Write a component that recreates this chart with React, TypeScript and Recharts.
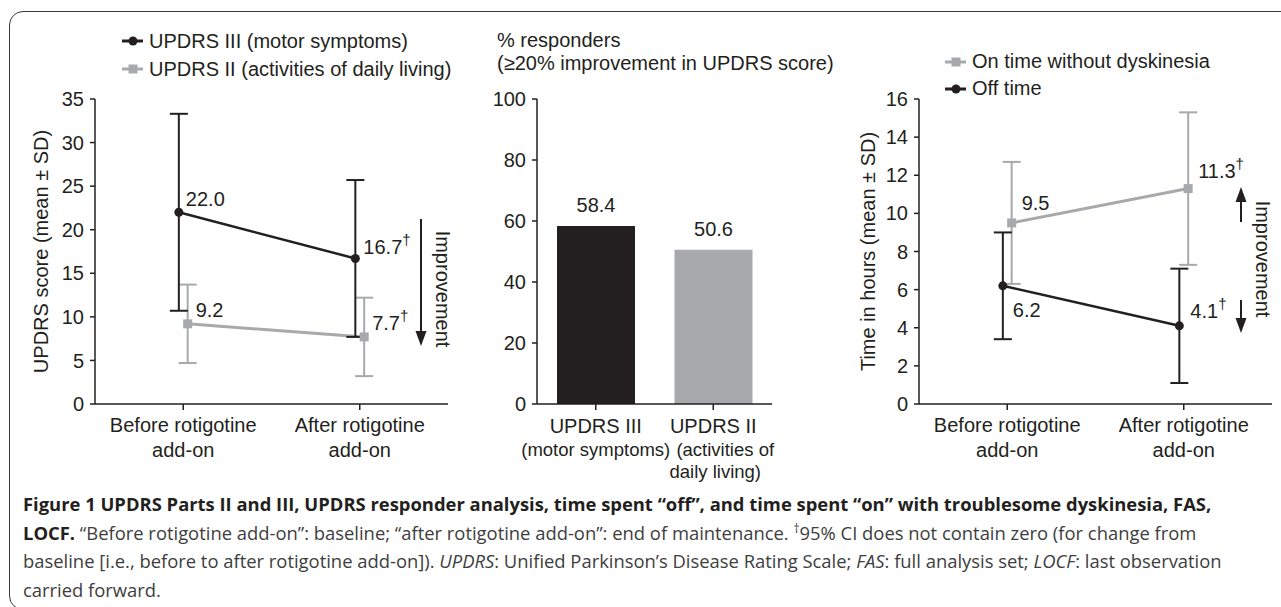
import React from 'react';
import {
  ComposedChart,
  Line,
  ErrorBar,
  XAxis,
  YAxis,
  BarChart,
  Bar,
  Cell,
  LabelList,
  Legend
} from 'recharts';

const FONT = '"Liberation Sans", Arial, Helvetica, sans-serif';
const CAPTION_FONT = '"Open Sans", "Noto Sans", sans-serif';
const INK = '#231f20';
const GREY = '#a7a9ac';

// visit categories (two-line tick labels)
const visits = [
  ['Before rotigotine', 'add-on'],
  ['After rotigotine', 'add-on']
];

// UPDRS panel
const updrsIIIMean = [22.0, 16.7];
const updrsIIISd = [11.3, 9.0];
const updrsIIMean = [9.2, 7.7];
const updrsIISd = [4.5, 4.5];
const updrsSig = [false, true];
const updrsTicks = [0, 5, 10, 15, 20, 25, 30, 35];

// responder panel
const responderGroups = [
  ['UPDRS III', '(motor symptoms)'],
  ['UPDRS II', '(activities of', 'daily living)']
];
const responderPct = [58.4, 50.6];
const pctTicks = [0, 20, 40, 60, 80, 100];

// on/off time panel
const onTimeMean = [9.5, 11.3];
const onTimeSd = [3.2, 4.0];
const offTimeMean = [6.2, 4.1];
const offTimeSd = [2.8, 3.0];
const timeSig = [false, true];
const hoursTicks = [0, 2, 4, 6, 8, 10, 12, 14, 16];

// small horizontal dodge so the two series don't overlap
const DODGE = 0.025;

const toPoints = (mean: number[], sd: number[], sig: boolean[], shift: number) =>
  mean.map((y, i) => ({ x: i + 1 + shift, y, sd: sd[i], sig: sig[i] }));

const updrsIIIPts = toPoints(updrsIIIMean, updrsIIISd, updrsSig, -DODGE);
const updrsIIPts = toPoints(updrsIIMean, updrsIISd, updrsSig, DODGE);
const offPts = toPoints(offTimeMean, offTimeSd, timeSig, -DODGE);
const onPts = toPoints(onTimeMean, onTimeSd, timeSig, DODGE);
const responderRows = responderGroups.map((g, i) => ({ group: g[0], pct: responderPct[i] }));

const CircleDot = (p: any) =>
  p.cx == null ? null : <circle key={`c${p.index}`} cx={p.cx} cy={p.cy} r={4.5} fill={INK} />;
const SquareDot = (p: any) =>
  p.cx == null ? null : (
    <rect key={`s${p.index}`} x={p.cx - 4.5} y={p.cy - 4.5} width={9} height={9} fill={GREY} />
  );

// value label placed beside a point, dagger as superscript
const pointLabel = (shifts: number[][], sig: boolean[]) => (p: any) => {
  const px = p.x ?? p.viewBox?.x;
  const py = p.y ?? p.viewBox?.y;
  const [dx, dy] = shifts[p.index];
  return (
    <text
      key={p.index}
      x={px + dx}
      y={py + dy + 7}
      fontSize={20}
      fill={INK}
      fontFamily={FONT}
    >
      {Number(p.value).toFixed(1)}
      {sig[p.index] ? (
        <tspan fontSize={15} dy={-9}>
          †
        </tspan>
      ) : null}
    </text>
  );
};

const VisitTick = (p: any) => {
  const lines = visits[Math.round(p.payload.value) - 1] || [];
  return (
    <text x={p.x} y={p.y} textAnchor="middle" fontSize={20} fill={INK} fontFamily={FONT}>
      {lines.map((t, i) => (
        <tspan key={i} x={p.x} dy={i === 0 ? 20 : 25}>
          {t}
        </tspan>
      ))}
    </text>
  );
};

// the second group's "(activities of" line sits a little right of centre
const groupLineShift = [[0, 0], [0, 12, 2]];

const GroupTick = (p: any) => {
  const lines = responderGroups[p.index] || [];
  return (
    <text x={p.x} y={p.y} textAnchor="middle" fill={INK} fontFamily={FONT}>
      {lines.map((t, i) => (
        <tspan
          key={i}
          x={p.x + (groupLineShift[p.index]?.[i] || 0)}
          dy={i === 0 ? 21 : i === 1 ? 23 : 22}
          fontSize={i === 0 ? 20 : 18.5}
        >
          {t}
        </tspan>
      ))}
    </text>
  );
};

const axisTitle = (text: string, dx: number) => (props: any) => {
  const vb = props.viewBox;
  const cx = vb.x + dx;
  const cy = vb.y + vb.height / 2;
  return (
    <text
      x={cx}
      y={cy}
      transform={`rotate(-90 ${cx} ${cy})`}
      textAnchor="middle"
      dominantBaseline="central"
      fontSize={20}
      fill={INK}
      fontFamily={FONT}
    >
      {text}
    </text>
  );
};

type LegendItem = { label: string; kind: 'circle' | 'square' };

const legendContent = (items: LegendItem[], rowHeight: number) => () => (
  <div style={{ fontFamily: FONT, fontSize: 20, color: INK, whiteSpace: 'nowrap' }}>
    {items.map((it) => (
      <div key={it.label} style={{ height: rowHeight, display: 'flex', alignItems: 'center' }}>
        <svg width={27} height={12} style={{ display: 'block' }}>
          <line
            x1={0}
            x2={21}
            y1={6}
            y2={6}
            stroke={it.kind === 'circle' ? INK : GREY}
            strokeWidth={3}
          />
          {it.kind === 'circle' ? (
            <circle cx={11} cy={6} r={4.5} fill={INK} />
          ) : (
            <rect x={6.5} y={1.5} width={9} height={9} fill={GREY} />
          )}
        </svg>
        <span>{it.label}</span>
      </div>
    ))}
  </div>
);

const axisProps = {
  axisLine: { stroke: INK, strokeWidth: 1.5 },
  tickLine: { stroke: INK, strokeWidth: 1.5 }
};

const yTick = { fontSize: 20, fill: INK, fontFamily: FONT };

function UpdrsPanel() {
  return (
    <ComposedChart
      width={460}
      height={480}
      margin={{ top: 99, right: 12, bottom: 16, left: 35 }}
    >
      <XAxis
        type="number"
        dataKey="x"
        domain={[0.5, 2.5]}
        ticks={[1, 2]}
        allowDataOverflow
        tick={VisitTick}
        tickSize={6}
        tickMargin={2}
        height={60}
        {...axisProps}
      />
      <YAxis
        type="number"
        domain={[0, 35]}
        ticks={updrsTicks}
        interval={0}
        width={60}
        tick={yTick}
        tickSize={5}
        tickMargin={6}
        label={axisTitle('UPDRS score (mean ± SD)', 6)}
        {...axisProps}
      />
      <Legend
        layout="vertical"
        align="center"
        verticalAlign="middle"
        content={legendContent(
          [
            { label: 'UPDRS III (motor symptoms)', kind: 'circle' },
            { label: 'UPDRS II (activities of daily living)', kind: 'square' }
          ],
          28
        )}
        wrapperStyle={{ left: 122, top: 27, width: 'auto' }}
      />
      <Line
        data={updrsIIPts}
        dataKey="y"
        stroke={GREY}
        strokeWidth={3}
        dot={SquareDot}
        activeDot={false}
        isAnimationActive={false}
      >
        <ErrorBar dataKey="sd" direction="y" width={9} stroke={GREY} strokeWidth={2} />
        <LabelList dataKey="y" content={pointLabel([[8, -14], [8, -14]], updrsSig)} />
      </Line>
      <Line
        data={updrsIIIPts}
        dataKey="y"
        stroke={INK}
        strokeWidth={2.5}
        dot={CircleDot}
        activeDot={false}
        isAnimationActive={false}
      >
        <ErrorBar dataKey="sd" direction="y" width={9} stroke={INK} strokeWidth={2} />
        <LabelList dataKey="y" content={pointLabel([[7, -13], [8, -11]], updrsSig)} />
      </Line>
    </ComposedChart>
  );
}

function ResponderPanel() {
  return (
    <BarChart
      width={330}
      height={495}
      data={responderRows}
      margin={{ top: 99, right: 18, bottom: 31, left: 17 }}
    >
      <XAxis
        dataKey="group"
        tick={GroupTick}
        tickSize={6}
        tickMargin={2}
        height={60}
        interval={0}
        {...axisProps}
      />
      <YAxis
        type="number"
        domain={[0, 100]}
        ticks={pctTicks}
        interval={0}
        width={60}
        tick={yTick}
        tickSize={5}
        tickMargin={6}
        {...axisProps}
      />
      <Bar dataKey="pct" barSize={78} isAnimationActive={false}>
        {responderRows.map((r, i) => (
          <Cell key={r.group} fill={i === 0 ? INK : GREY} />
        ))}
        <LabelList
          dataKey="pct"
          position="top"
          offset={14}
          formatter={(v: any) => Number(v).toFixed(1)}
          style={{ fontSize: 20, fill: INK, fontFamily: FONT }}
        />
      </Bar>
    </BarChart>
  );
}

function TimePanel() {
  return (
    <ComposedChart
      width={441}
      height={480}
      margin={{ top: 99, right: 9, bottom: 16, left: 19 }}
    >
      <XAxis
        type="number"
        dataKey="x"
        domain={[0.5, 2.5]}
        ticks={[1, 2]}
        allowDataOverflow
        tick={VisitTick}
        tickSize={6}
        tickMargin={2}
        height={60}
        {...axisProps}
      />
      <YAxis
        type="number"
        domain={[0, 16]}
        ticks={hoursTicks}
        interval={0}
        width={60}
        tick={yTick}
        tickSize={5}
        tickMargin={6}
        label={axisTitle('Time in hours (mean ± SD)', 9)}
        {...axisProps}
      />
      <Legend
        layout="vertical"
        align="center"
        verticalAlign="middle"
        content={legendContent(
          [
            { label: 'On time without dyskinesia', kind: 'square' },
            { label: 'Off time', kind: 'circle' }
          ],
          27
        )}
        wrapperStyle={{ left: 105, top: 48, width: 'auto' }}
      />
      <Line
        data={onPts}
        dataKey="y"
        stroke={GREY}
        strokeWidth={3}
        dot={SquareDot}
        activeDot={false}
        isAnimationActive={false}
      >
        <ErrorBar dataKey="sd" direction="y" width={9} stroke={GREY} strokeWidth={2} />
        <LabelList dataKey="y" content={pointLabel([[10, -20], [10, -18]], timeSig)} />
      </Line>
      <Line
        data={offPts}
        dataKey="y"
        stroke={INK}
        strokeWidth={2.5}
        dot={CircleDot}
        activeDot={false}
        isAnimationActive={false}
      >
        <ErrorBar dataKey="sd" direction="y" width={9} stroke={INK} strokeWidth={2} />
        <LabelList dataKey="y" content={pointLabel([[10, 24], [11, -15]], timeSig)} />
      </Line>
    </ComposedChart>
  );
}

const capLine: React.CSSProperties = {
  position: 'absolute',
  left: 23,
  whiteSpace: 'nowrap',
  fontFamily: CAPTION_FONT,
  fontSize: 18.4,
  lineHeight: '28px',
  color: '#3d3d3d'
};

export default function App() {
  return (
    <div
      style={{
        position: 'absolute',
        left: 0,
        top: 0,
        width: 1281,
        height: 607,
        overflow: 'hidden',
        background: '#fff'
      }}
    >
      <div
        style={{
          position: 'absolute',
          left: 9,
          top: 11,
          width: 1300,
          height: 597,
          border: '1.5px solid #3a3a3a',
          borderRadius: 14
        }}
      />
      <div style={{ position: 'absolute', left: 0, top: 0 }}>
        <UpdrsPanel />
      </div>
      <div style={{ position: 'absolute', left: 460, top: 0 }}>
        <ResponderPanel />
      </div>
      <div style={{ position: 'absolute', left: 840, top: 0 }}>
        <TimePanel />
      </div>

      {/* titles and improvement arrows */}
      <svg
        width={1281}
        height={480}
        style={{ position: 'absolute', left: 0, top: 0, pointerEvents: 'none' }}
        fontFamily={FONT}
        fontSize={20}
        fill={INK}
      >
        <text x={497} y={47}>% responders</text>
        <text x={497} y={70}>(≥20% improvement in UPDRS score)</text>

        <line x1={421} x2={421} y1={219} y2={334} stroke={INK} strokeWidth={2} />
        <polygon points="415.5,331 426.5,331 421,346" fill={INK} />
        <text x={443} y={289} transform="rotate(90 443 289)" textAnchor="middle" dominantBaseline="central">
          Improvement
        </text>

        <line x1={1241} x2={1241} y1={200} y2={222} stroke={INK} strokeWidth={2} />
        <polygon points="1235.5,202 1246.5,202 1241,187" fill={INK} />
        <line x1={1241} x2={1241} y1={300} y2={320} stroke={INK} strokeWidth={2} />
        <polygon points="1235.5,318 1246.5,318 1241,333" fill={INK} />
        <text x={1263} y={259} transform="rotate(90 1263 259)" textAnchor="middle" dominantBaseline="central">
          Improvement
        </text>
      </svg>

      <div style={{ ...capLine, top: 490, fontWeight: 700, color: INK }}>
        Figure 1 UPDRS Parts II and III, UPDRS responder analysis, time spent “off”, and time spent “on” with
        troublesome dyskinesia, FAS,
      </div>
      <div style={{ ...capLine, top: 518.5 }}>
        <b style={{ color: INK }}>LOCF.</b> “Before rotigotine add-on”: baseline; “after rotigotine add-on”: end of
        maintenance.{' '}
        <span style={{ fontSize: 12, position: 'relative', top: -7 }}>†</span>95% CI does not contain zero (for change
        from
      </div>
      <div style={{ ...capLine, top: 547 }}>
        baseline [i.e., before to after rotigotine add-on]). <i>UPDRS</i>: Unified Parkinson’s Disease Rating Scale;{' '}
        <i>FAS</i>: full analysis set; <i>LOCF</i>: last observation
      </div>
      <div style={{ ...capLine, top: 575.5 }}>carried forward.</div>
    </div>
  );
}
